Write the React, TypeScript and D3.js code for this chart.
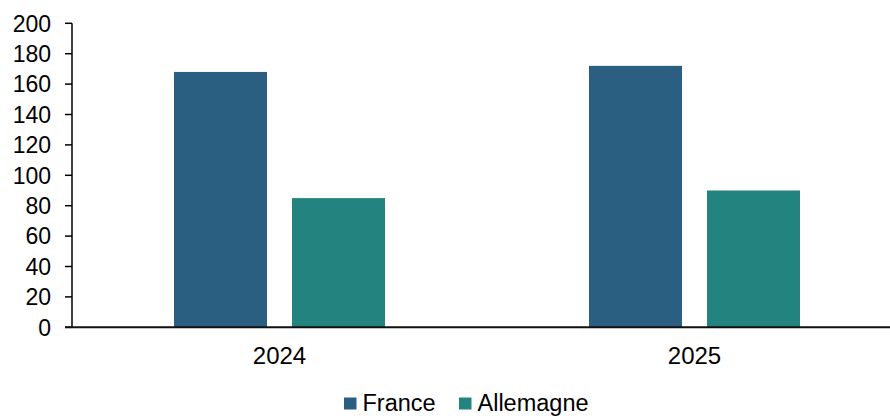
import React, { useEffect, useRef } from "react";
import * as d3 from "d3";

const years = ["2024", "2025"];
const seriesNames = ["France", "Allemagne"];
const france = [168, 172];
const allemagne = [85, 90];
const yTicks = [0, 20, 40, 60, 80, 100, 120, 140, 160, 180, 200];

const colors = ["#2A5F81", "#23837F"];

const App = () => {
	const svgRef = useRef<SVGSVGElement>(null);

	useEffect(() => {
		const width = 890;
		const height = 416;
		const font = "'Liberation Sans', Arial, sans-serif";

		const svg = d3.select(svgRef.current);
		svg.selectAll("*").remove();
		svg.attr("width", width).attr("height", height);

		const left = 72;
		const y = d3.scaleLinear().domain([0, 200]).range([327.3, 23.3]);

		// plot area runs past the right edge (clipped in the original)
		const x0 = d3.scaleBand().domain(years).range([left, left + 830]);
		const x1 = d3
			.scaleBand()
			.domain(seriesNames)
			.range([0, x0.bandwidth()])
			.paddingInner(25 / 118)
			.paddingOuter(0.8644);

		const values = [france, allemagne];

		// bars
		years.forEach((yr, i) => {
			seriesNames.forEach((s, j) => {
				const v = values[j][i];
				svg.append("rect")
					.attr("x", (x0(yr) as number) + (x1(s) as number))
					.attr("y", y(v))
					.attr("width", x1.bandwidth())
					.attr("height", y(0) - y(v))
					.attr("fill", colors[j]);
			});
		});

		// y axis
		const yAxis = svg.append("g").attr("transform", `translate(${left},0)`);
		yAxis.append("line")
			.attr("x1", 0).attr("x2", 0)
			.attr("y1", y(200)).attr("y2", y(0))
			.attr("stroke", "#000").attr("stroke-width", 1.5);
		yTicks.forEach((t) => {
			yAxis.append("line")
				.attr("x1", -7).attr("x2", 0)
				.attr("y1", y(t)).attr("y2", y(t))
				.attr("stroke", "#000").attr("stroke-width", 1.5);
			yAxis.append("text")
				.attr("x", -21)
				.attr("y", y(t))
				.attr("dy", "0.36em")
				.attr("text-anchor", "end")
				.style("font-family", font)
				.style("font-size", "23px")
				.attr("fill", "#000")
				.text(t);
		});

		// x axis baseline
		svg.append("line")
			.attr("x1", left - 7).attr("x2", width)
			.attr("y1", y(0)).attr("y2", y(0))
			.attr("stroke", "#111").attr("stroke-width", 2);

		years.forEach((yr) => {
			svg.append("text")
				.attr("x", (x0(yr) as number) + x0.bandwidth() / 2)
				.attr("y", 364)
				.attr("text-anchor", "middle")
				.style("font-family", font)
				.style("font-size", "24px")
				.attr("fill", "#000")
				.text(yr);
		});

		// legend (nudged up a little so the descenders stay inside the frame)
		const legendX = [344, 459];
		seriesNames.forEach((s, j) => {
			svg.append("rect")
				.attr("x", legendX[j])
				.attr("y", 397.5)
				.attr("width", 12.5)
				.attr("height", 12)
				.attr("fill", colors[j]);
			svg.append("text")
				.attr("x", legendX[j] + 18.5)
				.attr("y", 410.5)
				.style("font-family", font)
				.style("font-size", "23.5px")
				.attr("fill", "#000")
				.text(s);
		});
	}, []);

	return (
		<div style={{ position: "absolute", left: 0, top: 0, width: 890, height: 416, background: "#fff" }}>
			<svg ref={svgRef} style={{ display: "block" }}></svg>
		</div>
	);
};

export default App;
